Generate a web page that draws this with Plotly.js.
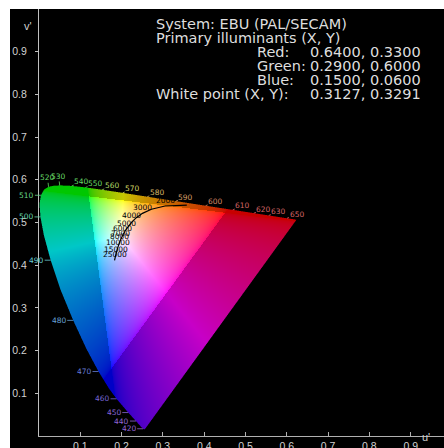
<!DOCTYPE html>
<html><head><meta charset="utf-8">
<script src="https://cdn.plot.ly/plotly-3.0.1.min.js"></script>
<style>
html,body{margin:0;padding:0;background:#fff;width:444px;height:448px;overflow:hidden}
#plot{position:absolute;left:10px;top:9px;width:434px;height:439px;background:#000}
</style></head><body><div id="plot"></div>
<script>
// Spectral locus, CIE 1976 u'v' (2° observer)
const locusNm = [380,390,400,410,420,430,440,450,460,465,470,475,480,485,490,495,500,505,510,515,520,525,530,535,540,545,550,555,560,565,570,575,580,585,590,595,600,610,620,630,640,650,660,680,700];
const locusU = [.2568,.2564,.2557,.2545,.2522,.2461,.2347,.2161,.1877,.1690,.1441,.1147,.0828,.0521,.0282,.0119,.0035,.0014,.0046,.0123,.0231,.0360,.0501,.0643,.0792,.0953,.1127,.1319,.1531,.1766,.2026,.2312,.2623,.2960,.3315,.3681,.4035,.4692,.5203,.5565,.5830,.6005,.6109,.6199,.6234];
const locusV = [.0166,.0163,.0159,.0159,.0169,.0226,.0350,.0549,.0871,.1119,.1510,.2044,.2708,.3427,.4117,.4698,.5131,.5432,.5638,.5770,.5837,.5861,.5868,.5865,.5856,.5841,.5821,.5796,.5766,.5732,.5694,.5651,.5604,.5554,.5501,.5446,.5393,.5296,.5219,.5165,.5125,.5099,.5084,.5070,.5065];
const labelNm = [420,440,450,460,470,480,490,500,510,520,530,540,550,560,570,580,590,600,610,620,630,650];

// Planckian locus, u'v'
const cctK = [1500,2000,2500,3000,3500,4000,5000,6000,7000,8000,10000,15000,25000];
const cctU = [.3579,.3051,.2722,.2505,.2357,.2251,.2114,.2033,.1981,.1946,.1903,.1857,.1829];
const cctV = [.5405,.5386,.5311,.5214,.5113,.5016,.4847,.4712,.4606,.4521,.4400,.4236,.4112];
const cctLabel = ['','2000','','3000','','4000','5000','6000','7000','8000','10000','15000','25000'];

// EBU primaries & white point (CIE xy)
const systemName = 'EBU (PAL/SECAM)';
const primaryName = ['Red','Green','Blue'];
const primaryX = [0.64,0.29,0.15];
const primaryY = [0.33,0.60,0.06];
const whiteX = 0.3127, whiteY = 0.3291;

const xTicks = [0.1,0.2,0.3,0.4,0.5,0.6,0.7,0.8,0.9];
const yTicks = [0.1,0.2,0.3,0.4,0.5,0.6,0.7,0.8,0.9];

// ---- colour conversion (XYZ -> EBU RGB) ----
function inv3(m){
  const [a,b,c]=m[0],[d,e,f]=m[1],[g,h,i]=m[2];
  const A=e*i-f*h,B=-(d*i-f*g),C=d*h-e*g;
  const det=a*A+b*B+c*C;
  return [[A/det,-(b*i-c*h)/det,(b*f-c*e)/det],
          [B/det,(a*i-c*g)/det,-(a*f-c*d)/det],
          [C/det,-(a*h-b*g)/det,(a*e-b*d)/det]];
}
function mulv(m,v){return [m[0][0]*v[0]+m[0][1]*v[1]+m[0][2]*v[2],m[1][0]*v[0]+m[1][1]*v[1]+m[1][2]*v[2],m[2][0]*v[0]+m[2][1]*v[1]+m[2][2]*v[2]];}
const P=[[0,0,0],[0,0,0],[0,0,0]];
for(let k=0;k<3;k++){const x=primaryX[k],y=primaryY[k];P[0][k]=x/y;P[1][k]=1;P[2][k]=(1-x-y)/y;}
const S=mulv(inv3(P),[whiteX/whiteY,1,(1-whiteX-whiteY)/whiteY]);
const M=P.map(r=>r.map((val,k)=>val*S[k]));
const Minv=inv3(M);

function rgbAt(u,v,outFactor){
  const d=6*u-16*v+12;
  const x=9*u/d,y=4*v/d;
  let [r,g,b]=mulv(Minv,[x/y,1,(1-x-y)/y]);
  const inG=r>=0&&g>=0&&b>=0;
  r=Math.max(r,0);g=Math.max(g,0);b=Math.max(b,0);
  const m=Math.max(r,g,b)||1;
  const k=inG?1:outFactor;
  return [r,g,b].map(c=>Math.round(255*k*Math.pow(c/m,1/2.2)));
}
function inside(u,v){
  let c=false;const n=locusU.length;
  for(let i=0,j=n-1;i<n;j=i++){
    const ui=locusU[i],vi=locusV[i],uj=locusU[j],vj=locusV[j];
    if(((vi>v)!==(vj>v))&&(u<(uj-ui)*(v-vi)/(vj-vi)+ui))c=!c;
  }
  return c;
}

// plot geometry (px)
const PW=405, PH=427;
const xMax=0.98063;
const du=xMax/PW, dv=1/PH;
const NX=Math.ceil(0.64/du), NY=Math.ceil(0.6/dv);
function buildImage(ss){
  const cv=document.createElement('canvas');cv.width=NX;cv.height=NY;
  const ctx=cv.getContext('2d');
  const img=ctx.createImageData(NX,NY);
  for(let j=0;j<NY;j++){
    const vc=(j+0.5)*dv, row=NY-1-j;
    for(let i=0;i<NX;i++){
      const uc=(i+0.5)*du;
      let cov=0;
      for(let a=0;a<ss;a++)for(let q=0;q<ss;q++){ if(inside((i+(a+0.5)/ss)*du,(j+(q+0.5)/ss)*dv))cov++; }
      if(cov===0)continue;
      const c=rgbAt(uc,vc,0.78);
      const o=(row*NX+i)*4;
      img.data[o]=c[0];img.data[o+1]=c[1];img.data[o+2]=c[2];img.data[o+3]=Math.round(255*cov/(ss*ss));
    }
  }
  ctx.putImageData(img,0,0);
  return cv.toDataURL();
}
const dataURL=buildImage(3);

const ann=[];
// wavelength labels
labelNm.forEach(nm=>{
  const idx=locusNm.indexOf(nm);
  const u=locusU[idx],v=locusV[idx];
  const c=rgbAt(u*0.97+0.198*0.03,v*0.97+0.468*0.03,0.8).map(q=>Math.round(q*0.55+255*0.4));
  let ax,ay;
  if(nm<=510){ax=-14;ay=0;}
  else if(nm<=530){ax=-1;ay=-9;}
  else {ax=10;ay=-4;}
  ann.push({x:u,y:v,xref:'x',yref:'y',text:String(nm),showarrow:true,arrowhead:0,arrowwidth:0.8,
    arrowcolor:`rgb(${c})`,ax:ax,ay:ay,standoff:0,startstandoff:0,borderpad:0,
    font:{family:'DejaVu Sans',size:7.5,color:`rgb(${c})`}});
});
// colour temperature labels
cctLabel.forEach((t,k)=>{
  if(!t)return;
  ann.push({x:cctU[k],y:cctV[k],xref:'x',yref:'y',text:t,showarrow:false,yshift:6,borderpad:0,
    font:{family:'DejaVu Sans',size:7.5,color:'#000'}});
});

// header text (abs pixel -> paper)
const px=X=>(X-39)/PW, py=Y=>(436-Y)/PH;
const hdrFont={family:'DejaVu Sans',size:14.5,color:'#dedede'};
function txt(s,X,Y,f){ann.push({xref:'paper',yref:'paper',x:px(X),y:py(Y),xanchor:'left',yanchor:'middle',text:s,showarrow:false,font:f||hdrFont,borderpad:0});}
txt('System: '+systemName,155,24);
txt('Primary illuminants (X, Y)',155,38);
primaryName.forEach((n,k)=>{
  txt(n+':',256,52+14*k);
  txt(primaryX[k].toFixed(4)+', '+primaryY[k].toFixed(4),309,52+14*k);
});
txt('White point (X, Y):',155,94);
txt(whiteX.toFixed(4)+', '+whiteY.toFixed(4),309,94);
ann.push({xref:'paper',yref:'paper',x:px(22),y:py(18),text:"v'",showarrow:false,font:{family:'Liberation Sans',size:11,color:'#d2d2d2'}});
ann.push({xref:'paper',yref:'paper',x:px(432),y:py(445),text:"u'",showarrow:false,font:{family:'Liberation Sans',size:11,color:'#d2d2d2'}});

const planckPath='M'+cctU.map((u,k)=>u+','+cctV[k]).join('L');

const axFont={family:'Liberation Sans',size:10.5,color:'#d2d2d2'};
const layout={
  width:434,height:439,
  margin:{l:29,r:0,t:0,b:12,pad:0},
  paper_bgcolor:'#000',plot_bgcolor:'#000',showlegend:false,
  images:[{source:dataURL,xref:'x',yref:'y',x:0,y:NY*dv,sizex:NX*du,sizey:NY*dv,xanchor:'left',yanchor:'top',sizing:'stretch',layer:'above',opacity:1}],
  shapes:[{type:'path',xref:'x',yref:'y',path:planckPath,line:{color:'#000',width:1.2},layer:'above'}],
  xaxis:{range:[0,xMax],autorange:false,showgrid:false,zeroline:false,showline:true,linecolor:'#b0b0b0',linewidth:1,
    ticks:'inside',ticklen:4,tickcolor:'#b0b0b0',tickvals:xTicks,ticktext:xTicks.map(t=>t.toFixed(1)),tickfont:axFont,fixedrange:true},
  yaxis:{range:[0,1],autorange:false,showgrid:false,zeroline:false,showline:true,linecolor:'#c0c0c0',linewidth:1,
    ticks:'outside',ticklen:3,tickcolor:'#c0c0c0',tickvals:yTicks,ticktext:yTicks.map(t=>t.toFixed(1)),tickfont:axFont,ticklabelstandoff:6,fixedrange:true},
  annotations:ann
};
Plotly.newPlot('plot',[],layout,{staticPlot:true,displayModeBar:false});
</script></body></html>
